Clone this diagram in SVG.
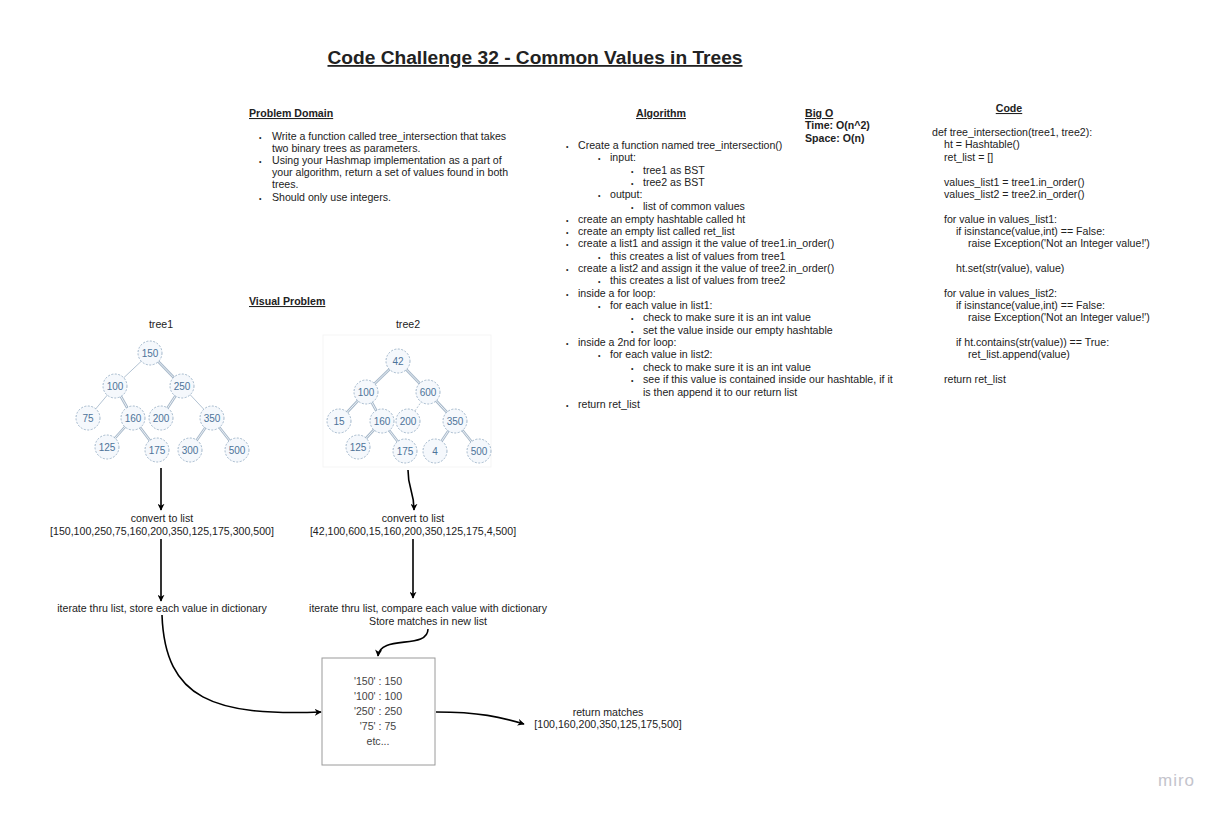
<svg xmlns="http://www.w3.org/2000/svg" width="1226" height="815" viewBox="0 0 1226 815">
<defs>
<marker id="ah" viewBox="0 0 10 10" refX="9" refY="5" markerWidth="7" markerHeight="7" orient="auto" markerUnits="userSpaceOnUse">
<path d="M0,0 L10,5 L0,10 L3,5 Z" fill="#000"/>
</marker>
<style>
text{font-family:"Liberation Sans",Arial,sans-serif;fill:#222;}
.t{font-size:10.6px;}
.h{font-size:10.6px;font-weight:bold;text-decoration:underline;}
.b{font-size:10.6px;font-weight:bold;}
.c{text-anchor:middle;}
.bu{font-size:7px;}
.nc{fill:#f5f8fc;stroke:#8ea7bf;stroke-width:0.8;stroke-dasharray:2 1.5;}
.nt{font-size:10px;fill:#4d7399;text-anchor:middle;}
.s{stroke:#b3c3d3;stroke-width:1;fill:none;}
.d{stroke:#a6b8ca;stroke-width:2.6;fill:none;}
.di{stroke:#ffffff;stroke-width:0.8;fill:none;}
.fl{stroke:#000;stroke-width:1.6;fill:none;marker-end:url(#ah);}
</style>
</defs>
<rect width="1226" height="815" fill="#ffffff"/>

<g id="title">
<text x="535" y="64" class="c" style="font-size:18px;font-weight:bold;text-decoration:underline;" textLength="415" lengthAdjust="spacingAndGlyphs">Code Challenge 32 - Common Values in Trees</text>
</g>

<g id="problem-domain">
<text x="249" y="117" class="h">Problem Domain</text>
<text x="259" y="140" class="bu">•</text><text x="272" y="140" class="t">Write a function called tree_intersection that takes</text>
<text x="272" y="152" class="t">two binary trees as parameters.</text>
<text x="259" y="164" class="bu">•</text><text x="272" y="164" class="t">Using your Hashmap implementation as a part of</text>
<text x="272" y="176" class="t">your algorithm, return a set of values found in both</text>
<text x="272" y="188" class="t">trees.</text>
<text x="259" y="201" class="bu">•</text><text x="272" y="201" class="t">Should only use integers.</text>
</g>

<g id="algorithm">
<text x="661" y="117" class="h c">Algorithm</text>
<text x="566" y="149" class="bu">•</text><text x="578" y="149" class="t">Create a function named tree_intersection()</text>
<text x="598" y="161" class="bu">•</text><text x="610" y="161" class="t">input:</text>
<text x="631" y="174" class="bu">•</text><text x="643" y="174" class="t">tree1 as BST</text>
<text x="631" y="186" class="bu">•</text><text x="643" y="186" class="t">tree2 as BST</text>
<text x="598" y="198" class="bu">•</text><text x="610" y="198" class="t">output:</text>
<text x="631" y="210" class="bu">•</text><text x="643" y="210" class="t">list of common values</text>
<text x="566" y="223" class="bu">•</text><text x="578" y="223" class="t">create an empty hashtable called ht</text>
<text x="566" y="235" class="bu">•</text><text x="578" y="235" class="t">create an empty list called ret_list</text>
<text x="566" y="247" class="bu">•</text><text x="578" y="247" class="t">create a list1 and assign it the value of tree1.in_order()</text>
<text x="598" y="260" class="bu">•</text><text x="610" y="260" class="t">this creates a list of values from tree1</text>
<text x="566" y="272" class="bu">•</text><text x="578" y="272" class="t">create a list2 and assign it the value of tree2.in_order()</text>
<text x="598" y="284" class="bu">•</text><text x="610" y="284" class="t">this creates a list of values from tree2</text>
<text x="566" y="297" class="bu">•</text><text x="578" y="297" class="t">inside a for loop:</text>
<text x="598" y="309" class="bu">•</text><text x="610" y="309" class="t">for each value in list1:</text>
<text x="631" y="321" class="bu">•</text><text x="643" y="321" class="t">check to make sure it is an int value</text>
<text x="631" y="334" class="bu">•</text><text x="643" y="334" class="t">set the value inside our empty hashtable</text>
<text x="566" y="346" class="bu">•</text><text x="578" y="346" class="t">inside a 2nd for loop:</text>
<text x="598" y="358" class="bu">•</text><text x="610" y="358" class="t">for each value in list2:</text>
<text x="631" y="371" class="bu">•</text><text x="643" y="371" class="t">check to make sure it is an int value</text>
<text x="631" y="383" class="bu">•</text><text x="643" y="383" class="t">see if this value is contained inside our hashtable, if it</text>
<text x="643" y="396" class="t">is then append it to our return list</text>
<text x="566" y="408" class="bu">•</text><text x="578" y="408" class="t">return ret_list</text>
</g>

<g id="big-o">
<text x="805" y="117" class="h">Big O</text>
<text x="805" y="129" class="b">Time: O(n^2)</text>
<text x="805" y="142" class="b">Space: O(n)</text>
</g>

<g id="code">
<text x="1009" y="112" class="h c">Code</text>
<text x="932" y="136" class="t">def tree_intersection(tree1, tree2):</text>
<text x="944" y="148" class="t">ht = Hashtable()</text>
<text x="944" y="161" class="t">ret_list = []</text>
<text x="944" y="186" class="t">values_list1 = tree1.in_order()</text>
<text x="944" y="198" class="t">values_list2 = tree2.in_order()</text>
<text x="944" y="223" class="t">for value in values_list1:</text>
<text x="956" y="235" class="t">if isinstance(value,int) == False:</text>
<text x="968" y="247" class="t">raise Exception('Not an Integer value!')</text>
<text x="956" y="272" class="t">ht.set(str(value), value)</text>
<text x="944" y="297" class="t">for value in values_list2:</text>
<text x="956" y="309" class="t">if isinstance(value,int) == False:</text>
<text x="968" y="321" class="t">raise Exception('Not an Integer value!')</text>
<text x="956" y="346" class="t">if ht.contains(str(value)) == True:</text>
<text x="968" y="358" class="t">ret_list.append(value)</text>
<text x="944" y="383" class="t">return ret_list</text>
</g>

<g id="visual-problem">
<text x="249" y="305" class="h">Visual Problem</text>
<text x="161" y="328" class="t c">tree1</text>
<text x="408" y="328" class="t c">tree2</text>
</g>

<rect id="tree2-bg" x="323" y="335" width="168" height="132" fill="#ffffff" stroke="#f5f5f5" stroke-width="1"/>

<g id="tree-edges">
<line class="s" x1="150" y1="353" x2="115" y2="386"/>
<line class="d" x1="150" y1="353" x2="182" y2="386"/><line class="di" x1="150" y1="353" x2="182" y2="386"/>
<line class="s" x1="115" y1="386" x2="88" y2="418"/>
<line class="d" x1="115" y1="386" x2="133" y2="418"/><line class="di" x1="115" y1="386" x2="133" y2="418"/>
<line class="d" x1="182" y1="386" x2="161" y2="418"/><line class="di" x1="182" y1="386" x2="161" y2="418"/>
<line class="s" x1="182" y1="386" x2="212" y2="418"/>
<line class="d" x1="133" y1="418" x2="107" y2="447"/><line class="di" x1="133" y1="418" x2="107" y2="447"/>
<line class="d" x1="133" y1="418" x2="157" y2="450"/><line class="di" x1="133" y1="418" x2="157" y2="450"/>
<line class="d" x1="212" y1="418" x2="190" y2="450"/><line class="di" x1="212" y1="418" x2="190" y2="450"/>
<line class="d" x1="212" y1="418" x2="237" y2="450"/><line class="di" x1="212" y1="418" x2="237" y2="450"/>

<line class="d" x1="398" y1="361" x2="366" y2="392"/><line class="di" x1="398" y1="361" x2="366" y2="392"/>
<line class="d" x1="398" y1="361" x2="428" y2="392"/><line class="di" x1="398" y1="361" x2="428" y2="392"/>
<line class="d" x1="366" y1="392" x2="339" y2="421"/><line class="di" x1="366" y1="392" x2="339" y2="421"/>
<line class="d" x1="366" y1="392" x2="382" y2="421"/><line class="di" x1="366" y1="392" x2="382" y2="421"/>
<line class="s" x1="428" y1="392" x2="408" y2="421" stroke-dasharray="2 1.5"/>
<line class="d" x1="428" y1="392" x2="455" y2="421"/><line class="di" x1="428" y1="392" x2="455" y2="421"/>
<line class="d" x1="382" y1="421" x2="358" y2="447"/><line class="di" x1="382" y1="421" x2="358" y2="447"/>
<line class="d" x1="382" y1="421" x2="405" y2="451"/><line class="di" x1="382" y1="421" x2="405" y2="451"/>
<line class="d" x1="455" y1="421" x2="435" y2="451"/><line class="di" x1="455" y1="421" x2="435" y2="451"/>
<line class="d" x1="455" y1="421" x2="479" y2="451"/><line class="di" x1="455" y1="421" x2="479" y2="451"/>
</g>

<g id="tree1-nodes">
<g id="t1-150"><circle class="nc" cx="150" cy="353" r="12"/><text class="nt" x="150" y="357">150</text></g>
<g id="t1-100"><circle class="nc" cx="115" cy="386" r="12"/><text class="nt" x="115" y="390">100</text></g>
<g id="t1-250"><circle class="nc" cx="182" cy="386" r="12"/><text class="nt" x="182" y="390">250</text></g>
<g id="t1-75"><circle class="nc" cx="88" cy="418" r="12"/><text class="nt" x="88" y="422">75</text></g>
<g id="t1-160"><circle class="nc" cx="133" cy="418" r="12"/><text class="nt" x="133" y="422">160</text></g>
<g id="t1-200"><circle class="nc" cx="161" cy="418" r="12"/><text class="nt" x="161" y="422">200</text></g>
<g id="t1-350"><circle class="nc" cx="212" cy="418" r="12"/><text class="nt" x="212" y="422">350</text></g>
<g id="t1-125"><circle class="nc" cx="107" cy="447" r="12"/><text class="nt" x="107" y="451">125</text></g>
<g id="t1-175"><circle class="nc" cx="157" cy="450" r="12"/><text class="nt" x="157" y="454">175</text></g>
<g id="t1-300"><circle class="nc" cx="190" cy="450" r="12"/><text class="nt" x="190" y="454">300</text></g>
<g id="t1-500"><circle class="nc" cx="237" cy="450" r="12"/><text class="nt" x="237" y="454">500</text></g>
</g>

<g id="tree2-nodes">
<g id="t2-42"><circle class="nc" cx="398" cy="361" r="12"/><text class="nt" x="398" y="365">42</text></g>
<g id="t2-100"><circle class="nc" cx="366" cy="392" r="12"/><text class="nt" x="366" y="396">100</text></g>
<g id="t2-600"><circle class="nc" cx="428" cy="392" r="12"/><text class="nt" x="428" y="396">600</text></g>
<g id="t2-15"><circle class="nc" cx="339" cy="421" r="12"/><text class="nt" x="339" y="425">15</text></g>
<g id="t2-160"><circle class="nc" cx="382" cy="421" r="12"/><text class="nt" x="382" y="425">160</text></g>
<g id="t2-200"><circle class="nc" cx="408" cy="421" r="12"/><text class="nt" x="408" y="425">200</text></g>
<g id="t2-350"><circle class="nc" cx="455" cy="421" r="12"/><text class="nt" x="455" y="425">350</text></g>
<g id="t2-125"><circle class="nc" cx="358" cy="447" r="12"/><text class="nt" x="358" y="451">125</text></g>
<g id="t2-175"><circle class="nc" cx="405" cy="451" r="12"/><text class="nt" x="405" y="455">175</text></g>
<g id="t2-4"><circle class="nc" cx="435" cy="451" r="12"/><text class="nt" x="435" y="455">4</text></g>
<g id="t2-500"><circle class="nc" cx="479" cy="451" r="12"/><text class="nt" x="479" y="455">500</text></g>
</g>

<g id="convert1">
<text x="162" y="522" class="t c">convert to list</text>
<text x="162" y="535" class="t c">[150,100,250,75,160,200,350,125,175,300,500]</text>
</g>
<g id="convert2">
<text x="413" y="522" class="t c">convert to list</text>
<text x="413" y="535" class="t c">[42,100,600,15,160,200,350,125,175,4,500]</text>
</g>
<g id="iterate1">
<text x="162" y="612" class="t c">iterate thru list, store each value in dictionary</text>
</g>
<g id="iterate2">
<text x="428" y="612" class="t c">iterate thru list, compare each value with dictionary</text>
<text x="428" y="625" class="t c">Store matches in new list</text>
</g>
<g id="dictionary">
<rect x="322" y="658" width="113" height="107" fill="#ffffff" stroke="#9a9a9a" stroke-width="1"/>
<text x="378" y="685" class="t c" style="fill:#444">'150' : 150</text>
<text x="378" y="700" class="t c" style="fill:#444">'100' : 100</text>
<text x="378" y="715" class="t c" style="fill:#444">'250' : 250</text>
<text x="378" y="730" class="t c" style="fill:#444">'75' : 75</text>
<text x="378" y="745" class="t c" style="fill:#444">etc...</text>
</g>
<g id="result">
<text x="608" y="716" class="t c">return matches</text>
<text x="608" y="728" class="t c">[100,160,200,350,125,175,500]</text>
</g>

<g id="connectors">
<path class="fl" d="M161,468 L161,510"/>
<path class="fl" d="M161,539 L161,601"/>
<path class="fl" d="M162,615 C165,700 215,716 321,712"/>
<path class="fl" d="M408,470 C408,490 414,490 414,510"/>
<path class="fl" d="M413,539 L413,598"/>
<path class="fl" d="M428,629 C428,650 380,634 378,656"/>
<path class="fl" d="M436,712 C480,712 500,717 524,724"/>
</g>

<text id="miro" x="1158" y="786" style="font-size:17px;fill:#c4c4cc;letter-spacing:1px;">miro</text>
</svg>
